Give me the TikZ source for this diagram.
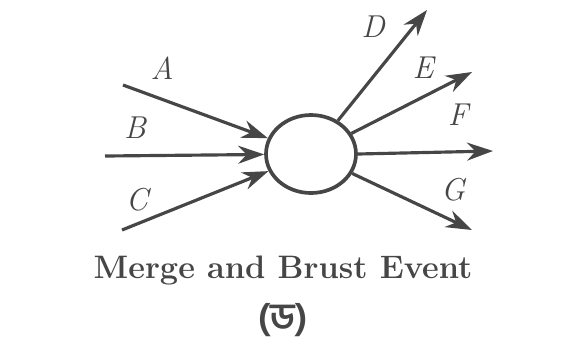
\documentclass[tikz,border=0pt]{standalone}
\usepackage{fontspec}
\usepackage{tikz}
\usetikzlibrary{arrows.meta, shapes.geometric}
\newfontfamily\bengfont[Script=Bengali]{Hind Siliguri}
\definecolor{inkc}{RGB}{70,70,70}

\begin{document}
\begin{tikzpicture}[x=0.02cm, y=-0.02cm,
    evt/.style={draw=inkc, line width=2.1pt, ellipse, minimum width=1.8cm,
      minimum height=1.56cm, inner sep=0pt},
    lbl/.style={font=\fontsize{18}{18}\selectfont\itshape, text=inkc},
    flow/.style={-{Stealth[length=5.2mm, width=3.6mm]}, line width=1.8pt, inkc}]
  \useasboundingbox (0,0) rectangle (563,346);
  \node[evt] (ev) at (311,154) {};
  % incoming activities
  \coordinate (a) at (123,85);
  \coordinate (b) at (105,156);
  \coordinate (c) at (122,230);
  % outgoing activities
  \coordinate (d) at (427,10);
  \coordinate (e) at (472,72);
  \coordinate (f) at (493,151);
  \coordinate (g) at (472,230);
  \draw[flow] (a) -- (ev);
  \draw[flow] (b) -- (ev);
  \draw[flow] (c) -- (ev);
  \draw[flow] (ev) -- (d);
  \draw[flow] (ev) -- (e);
  \draw[flow] (ev.east) -- (f);
  \draw[flow] (ev) -- (g);
  \node[lbl] (la) at (162,68) {A};
  \node[lbl] (lb) at (135,128) {B};
  \node[lbl] (lc) at (137,200) {C};
  \node[lbl] (ld) at (373,27) {D};
  \node[lbl] (le) at (423,68) {E};
  \node[lbl] (lf) at (458,115) {F};
  \node[lbl] (lg) at (453,190) {G};
  \node[font=\fontsize{18.5}{18.5}\selectfont\bfseries, text=inkc] (title) at (283,270)
    {Merge and Brust Event};
  \node[font=\fontsize{21}{21}\selectfont\bengfont\bfseries, text=inkc] (tag) at (283,320)
    {(ড)};
\end{tikzpicture}
\end{document}
